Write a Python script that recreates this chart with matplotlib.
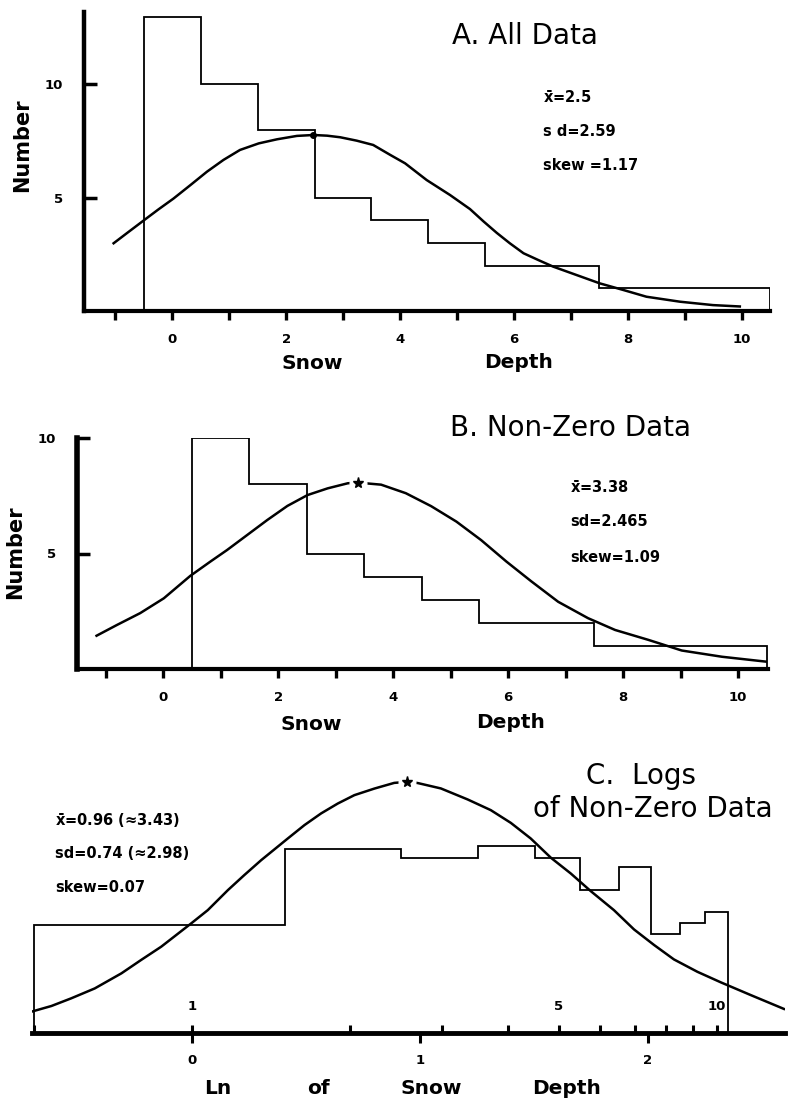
import numpy as np
import matplotlib.pyplot as plt

plt.rcParams['font.family'] = ['DejaVu Sans']
plt.rcParams['font.weight'] = 'bold'
plt.rcParams['mathtext.fontset'] = 'dejavusans'

# Datos.
# A. Todos los datos
bordes_a = [-0.5, 0.5, 1.5, 2.5, 3.5, 4.5, 5.5, 6.5, 7.5, 8.5, 9.5, 10.5]
conteos_a = [13, 10, 8, 5, 4, 3, 2, 2, 1, 1, 1]
curva_a_x = [-1.03, -0.80, -0.50, -0.24, 0.02, 0.32, 0.61, 0.90, 1.19, 1.52,
             1.84, 2.19, 2.48, 2.72, 2.95, 3.24, 3.53, 3.83, 4.09, 4.47,
             4.88, 5.23, 5.47, 5.70, 5.93, 6.17, 6.43, 6.69, 7.10, 7.51,
             7.92, 8.33, 8.92, 9.50, 9.97]
curva_a_y = [2.99, 3.43, 4.00, 4.49, 4.96, 5.56, 6.15, 6.67, 7.11, 7.40,
             7.58, 7.73, 7.77, 7.74, 7.67, 7.52, 7.33, 6.89, 6.52, 5.78,
             5.12, 4.50, 3.95, 3.45, 2.99, 2.55, 2.25, 1.96, 1.59, 1.22,
             0.93, 0.63, 0.41, 0.26, 0.20]
media_a = 2.48
pico_a = 7.77
stats_a = [r'$\bar{\mathbf{x}}$=2.5', 's d=2.59', 'skew =1.17']

# B. Datos distintos de cero
bordes_b = [0.5, 1.5, 2.5, 3.5, 4.5, 5.5, 6.5, 7.5, 8.5, 9.5, 10.5]
conteos_b = [10, 8, 5, 4, 3, 2, 2, 1, 1, 1]
curva_b_x = [-1.16, -0.81, -0.40, 0.01, 0.47, 0.82, 1.11, 1.46, 1.81, 2.16,
             2.51, 2.86, 3.21, 3.38, 3.79, 4.22, 4.66, 5.10, 5.53, 5.97,
             6.40, 6.87, 7.39, 7.86, 8.44, 9.02, 9.72, 10.48]
curva_b_y = [1.44, 1.90, 2.42, 3.06, 4.03, 4.65, 5.15, 5.80, 6.45, 7.06,
             7.53, 7.82, 8.04, 8.07, 7.98, 7.61, 7.05, 6.38, 5.58, 4.65,
             3.80, 2.91, 2.20, 1.69, 1.26, 0.80, 0.53, 0.32]
media_b = 3.38
pico_b = 8.07
stats_b = [r'$\bar{\mathbf{x}}$=3.38', 'sd=2.465', 'skew=1.09']

# C. Logaritmos de los datos distintos de cero (eje en profundidad, escala log)
bordes_c = [0.5, 1.5, 2.5, 3.5, 4.5, 5.5, 6.5, 7.5, 8.5, 9.5, 10.5]
alturas_c = [9.2, 15.6, 14.8, 15.9, 14.8, 12.1, 14.1, 8.4, 9.3, 10.3]
curva_c_x = [0.494, 0.539, 0.588, 0.652, 0.733, 0.799, 0.873, 0.996, 1.071,
             1.170, 1.257, 1.354, 1.522, 1.637, 1.761, 1.895, 2.038, 2.226,
             2.428, 2.568, 2.691, 2.98, 3.350, 3.71, 4.051, 4.42, 4.831,
             5.27, 5.755, 6.37, 6.959, 7.60, 8.290, 9.19, 10.18, 11.61, 13.44]
curva_c_y = [1.81, 2.29, 2.94, 3.78, 5.06, 6.19, 7.32, 9.30, 10.42,
             12.12, 13.39, 14.66, 16.50, 17.63, 18.62, 19.46, 20.17, 20.73,
             21.21, 21.30, 21.20, 20.74, 19.81, 18.90, 17.82, 16.50, 14.86,
             13.53, 12.03, 10.42, 8.78, 7.46, 6.24, 5.19, 4.30, 3.22, 2.04]
media_c = 2.568
pico_c = 21.3
stats_c = [r'$\bar{\mathbf{x}}$=0.96 (≈3.43)', 'sd=0.74 (≈2.98)', 'skew=0.07']
ticks_ln = [0, 1, 2]
ticks_prof = [0.5, 1, 2, 3, 4, 5, 6, 7, 8, 9, 10]
etiquetas_prof = ['', '1', '', '', '', '5', '', '', '', '', '10']

W, H = 793, 1102
fig = plt.figure(figsize=(W / 100, H / 100), dpi=100)


def fx(px):
    return px / W


def fy(py):
    return 1 - py / H


def caja(x0, y0, x1, y1):
    return [fx(x0), fy(y1), fx(x1) - fx(x0), fy(y0) - fy(y1)]


def estilo_eje(ax, ancho_izq):
    ax.spines['top'].set_visible(False)
    ax.spines['right'].set_visible(False)
    ax.spines['left'].set_linewidth(ancho_izq)
    ax.spines['bottom'].set_linewidth(3)
    ticks = list(range(-1, 11))
    ax.set_xticks(ticks, labels=[str(t) if t >= 0 and t % 2 == 0 else '' for t in ticks])
    ax.set_yticks([5, 10], labels=['5', '10'])
    ax.tick_params(axis='x', direction='out', length=6.5, width=2.4, pad=9, labelsize=9.5)
    ax.tick_params(axis='y', direction='in', length=9.5, width=2.5, pad=15, labelsize=9.5)


# Panel A
ax_a = fig.add_axes(caja(84, 12, 770, 311))
ax_a.stairs(conteos_a, bordes_a, baseline=0, color='black', lw=1.3)
ax_a.plot(curva_a_x, curva_a_y, color='black', lw=1.8)
ax_a.plot([media_a], [pico_a], 'o', color='black', ms=4)
ax_a.set_xlim(-1.55, 10.5)
ax_a.set_ylim(0, 13.2)
estilo_eje(ax_a, 3.2)

# Panel B
ax_b = fig.add_axes(caja(77, 438, 768, 669))
ax_b.stairs(conteos_b, bordes_b, baseline=0, color='black', lw=1.3)
ax_b.plot(curva_b_x, curva_b_y, color='black', lw=1.8)
ax_b.plot([media_b], [pico_b], 'o', color='white', ms=12, zorder=3)
ax_b.plot([media_b], [pico_b], '*', color='black', ms=8, zorder=4)
ax_b.set_xlim(-1.5, 10.52)
ax_b.set_ylim(0, 10)
estilo_eje(ax_b, 4)

# Panel C
ax_c = fig.add_axes(caja(32, 750, 785, 1033))
ax_c.stairs(alturas_c, bordes_c, baseline=0, color='black', lw=1.3)
ax_c.plot(curva_c_x, curva_c_y, color='black', lw=1.8)
ax_c.plot([media_c], [pico_c], 'o', color='white', ms=12, zorder=3)
ax_c.plot([media_c], [pico_c], '*', color='black', ms=8, zorder=4)
ax_c.set_xscale('log', base=np.e)
ax_c.set_xlim(0.495, 13.5)
ax_c.set_ylim(0, 24)
for s in ['top', 'right', 'left']:
    ax_c.spines[s].set_visible(False)
ax_c.spines['bottom'].set_linewidth(3.5)
ax_c.set_yticks([])
ax_c.set_xticks(np.exp(ticks_ln), labels=[str(t) for t in ticks_ln])
ax_c.set_xticks(ticks_prof, labels=etiquetas_prof, minor=True)
ax_c.xaxis.remove_overlapping_locs = False
ax_c.tick_params(axis='x', which='major', direction='out', length=7, width=2.2, pad=8, labelsize=9.5)
ax_c.tick_params(axis='x', which='minor', direction='in', length=6, width=2.2, pad=-24, labelsize=9.5)

# Títulos
fig.text(fx(525), fy(36), 'A. All Data', ha='center', va='center', fontsize=20, fontweight='normal')
fig.text(fx(570), fy(428), 'B. Non-Zero Data', ha='center', va='center', fontsize=20, fontweight='normal')
fig.text(fx(641), fy(776), 'C.  Logs', ha='center', va='center', fontsize=20, fontweight='normal')
fig.text(fx(653), fy(809), 'of Non-Zero Data', ha='center', va='center', fontsize=20, fontweight='normal')

# Estadísticos
for texto, y in zip(stats_a, [98, 132, 166]):
    fig.text(fx(543), fy(y), texto, ha='left', va='center', fontsize=10.5)
for texto, y in zip(stats_b, [488, 522, 557]):
    fig.text(fx(570), fy(y), texto, ha='left', va='center', fontsize=10.5)
for texto, y in zip(stats_c, [821, 854, 888]):
    fig.text(fx(55), fy(y), texto, ha='left', va='center', fontsize=10.5)

# Etiquetas de ejes
fig.text(fx(22), fy(145), 'Number', rotation=90, ha='center', va='center', fontsize=15)
fig.text(fx(15), fy(552), 'Number', rotation=90, ha='center', va='center', fontsize=15)
for texto, x, y in [('Snow', 312, 364), ('Depth', 519, 362),
                    ('Snow', 311, 724), ('Depth', 511, 722),
                    ('Ln', 218, 1088), ('of', 318, 1088),
                    ('Snow', 431, 1088), ('Depth', 567, 1088)]:
    fig.text(fx(x), fy(y), texto, ha='center', va='center', fontsize=14.5)

fig.savefig('out.png', dpi=100)
